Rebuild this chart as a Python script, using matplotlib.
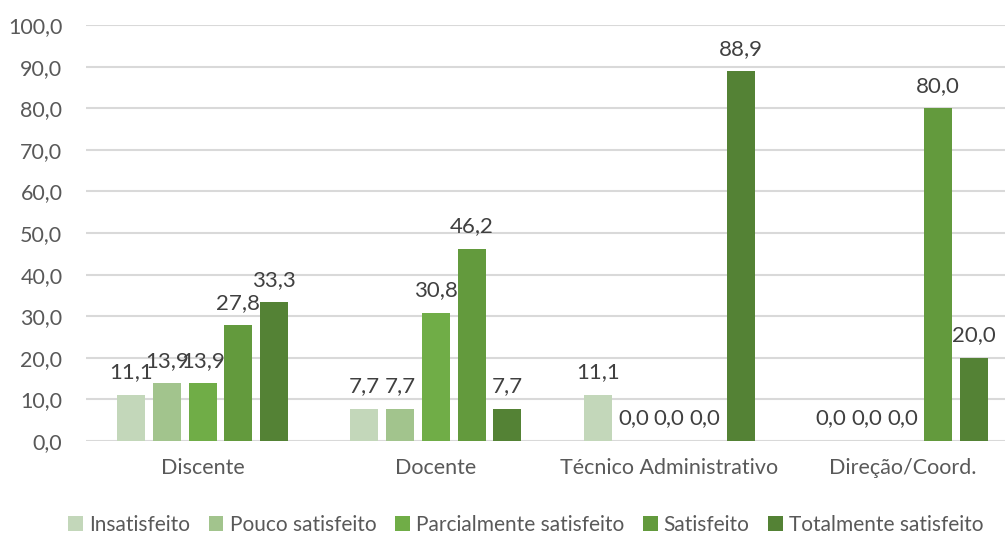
import numpy as np
import matplotlib
matplotlib.use("Agg")
import matplotlib.pyplot as plt

categories = ["Discente", "Docente", "Técnico Administrativo", "Direção/Coord."]
series_names = ["Insatisfeito", "Pouco satisfeito", "Parcialmente satisfeito",
                "Satisfeito", "Totalmente satisfeito"]
insatisfeito = [11.1, 7.7, 11.1, 0.0]
pouco = [13.9, 7.7, 0.0, 0.0]
parcial = [13.9, 30.8, 0.0, 0.0]
satisfeito = [27.8, 46.2, 0.0, 80.0]
totalmente = [33.3, 7.7, 88.9, 20.0]
yticks = np.arange(0, 101, 10)

colors = ["#C3D7BA", "#A2C48D", "#70AD47", "#639A3D", "#548235"]
text_color = "#595959"
label_color = "#404040"

plt.rcParams["font.family"] = ["Lato", "DejaVu Sans"]

fig = plt.figure(figsize=(10.05, 5.33), dpi=100)
# plot area is slightly wider than the image (right part cropped off)
ax = fig.add_axes([86 / 1005, 1 - 441 / 533, 933 / 1005, 416 / 533])

x = np.arange(len(categories))
width = 0.12
step = 0.1533
all_series = [insatisfeito, pouco, parcial, satisfeito, totalmente]

handles = []
for i, (vals, name) in enumerate(zip(all_series, series_names)):
    pos = x + (i - 2) * step
    bars = ax.bar(pos, vals, width, color=colors[i], label=name, zorder=3)
    handles.append(bars)
    for p, v in zip(pos, vals):
        # labels overlap in Discente, same as the original chart
        ax.annotate(f"{v:.1f}".replace(".", ","), (p, v), xytext=(0, 9),
                    textcoords="offset points", ha="center", va="bottom",
                    fontsize=16, color=label_color)

ax.set_xlim(-0.5, len(categories) - 0.5)
ax.set_ylim(0, 100)
ax.set_yticks(yticks)
ax.set_yticklabels([f"{t:.1f}".replace(".", ",") for t in yticks])
ax.set_xticks(x)
ax.set_xticklabels(categories)
ax.tick_params(axis="both", length=0, labelsize=15.5, colors=text_color)
ax.tick_params(axis="y", pad=17)
ax.tick_params(axis="x", pad=12)
ax.grid(axis="y", color="#D9D9D9", linewidth=1.5, zorder=0)
for s in ax.spines.values():
    s.set_visible(False)

fig.legend(handles=handles, labels=series_names, loc="center", ncol=5,
           bbox_to_anchor=(526 / 1005, 1 - 525 / 533), frameon=False,
           fontsize=15, handlelength=0.7, handleheight=0.7,
           handletextpad=0.3, columnspacing=0.9, labelcolor=text_color)

fig.savefig("out.png", dpi=100)
